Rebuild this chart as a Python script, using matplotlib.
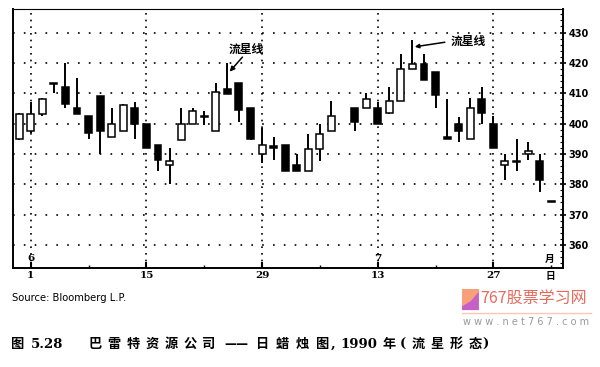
import numpy as np
import matplotlib
matplotlib.use("Agg")
from matplotlib import pyplot as plt
from matplotlib.patches import Rectangle, Polygon

plt.rcParams['font.family'] = ['Noto Sans CJK SC', 'DejaVu Sans']

# Handelstage (Position), Index 27 fehlt im Original
pos = list(range(-1, 27)) + list(range(28, 46))
opens = [395, 397.5, 403, 413, 412, 405, 402.5, 409, 395.5, 397.5, 405, 400, 393, 386.5,
         394.5, 400, 402.5, 397.5, 411.3, 413.5, 405, 390, 392.5, 393, 386.5, 384.5, 391.5, 397.5,
         405, 405, 405, 403.5, 407.5, 418, 419.5, 417, 395.5, 400, 395, 408, 400, 386.5,
         387.7, 390, 387.5, 374]
highs = [403.5, 407, 408.5, 413, 420, 415, 402.5, 409, 405, 406.5, 407, 400, 393, 392,
         405, 405, 404, 413.5, 420, 413.5, 405, 398.5, 395.7, 393, 390, 396.5, 400, 407.5,
         405, 410, 407, 412, 423, 427.5, 423, 417, 408, 402, 408.5, 412, 402.5, 390,
         395, 394, 390, 374]
lows = [394.5, 397, 402.5, 410, 405, 403, 395, 390, 395.5, 397.5, 395, 392, 384.5, 380,
        394.5, 400, 399.5, 397.5, 409.7, 400.5, 394.5, 387, 388, 384.5, 384.5, 384.5, 387.5, 397.5,
        397.5, 405, 400, 403, 407.5, 418, 414.5, 405, 395, 394, 395, 400, 392, 381.5,
        384.5, 388, 377.5, 374]
closes = [403, 403, 408, 413, 406.5, 403, 397, 397.5, 400, 406, 400, 392, 388, 387.5,
          400, 404, 402, 410.5, 409.8, 404.5, 395, 393, 392, 384.5, 384.5, 391.5, 396.5, 402.5,
          400.5, 408, 400, 407.5, 418, 419.7, 414.5, 409.5, 395, 397.5, 405, 403.5, 392, 387.7,
          387.3, 390.8, 381.5, 374]

tick_pos = [0, 10, 20, 30, 40]
tick_labels = ['1', '15', '29', '13', '27']
month_marks = [(0, '6'), (30, '7')]
y_ticks = [360, 370, 380, 390, 400, 410, 420, 430]

fig = plt.figure(figsize=(6, 3.67), dpi=100)
ax = fig.add_axes([0.021, 0.269, 0.917, 0.706])

ax.set_xlim(-1.57, 46.0)
ax.set_ylim(352.3, 437.7)

# Gitter punktiert
for y in y_ticks:
    ax.axhline(y, color='black', lw=1.2, ls=(0, (1, 5.5)), zorder=1)
for x in tick_pos:
    ax.axvline(x, color='black', lw=1.2, ls=(0, (1, 3)), zorder=1)

# Kerzen
w = 0.6
for x, o, h, l, c in zip(pos, opens, highs, lows, closes):
    ax.vlines(x, l, h, color='black', lw=1.4, zorder=2)
    up = c > o
    bot = min(o, c)
    hgt = max(abs(c - o), 0.35)
    ax.add_patch(Rectangle((x - w / 2, bot), w, hgt,
                           facecolor='white' if up else 'black',
                           edgecolor='black', lw=1.1, zorder=3))

# Achsen
for s in ax.spines.values():
    s.set_linewidth(1.4)
ax.spines['top'].set_linewidth(0.8)
ax.yaxis.tick_right()
ax.set_yticks(y_ticks)
ax.set_yticklabels([str(v) for v in y_ticks], fontsize=7, fontweight='bold',
                   family='DejaVu Sans')
ax.set_yticks(np.arange(354, 438, 2), minor=True)
ax.tick_params(axis='y', which='major', direction='inout', length=4, width=1.2, pad=2)
ax.tick_params(axis='y', which='minor', direction='in', length=2, width=0.8)
ax.set_xticks(tick_pos)
ax.set_xticklabels(tick_labels, fontsize=7.5, fontweight='bold', family='DejaVu Serif')
ax.set_xticks(np.arange(5, 46, 10), minor=True)
ax.tick_params(axis='x', which='major', direction='in', length=4, width=1.5, pad=2)
ax.tick_params(axis='x', which='minor', direction='in', length=2, width=1.0)

for x, t in month_marks:
    ax.text(x, 354.2, t, fontsize=7.5, fontweight='bold', ha='center', va='bottom',
            family='DejaVu Serif')
ax.text(44.9, 353.6, '月', fontsize=7, fontweight='bold', ha='center', va='bottom')
ax.text(44.9, 351.5, '日', fontsize=7, fontweight='bold', ha='center', va='top')

# Beschriftung Sternschnuppe
ax.text(18.6, 424.4, '流星线', fontsize=8.5, fontweight='bold', ha='center', va='center')
ax.annotate('', xy=(17.2, 417.1), xytext=(18.3, 421.9),
            arrowprops=dict(arrowstyle='-|>', color='black', lw=1.1,
                            mutation_scale=7, shrinkA=0, shrinkB=0))
ax.text(37.8, 427.0, '流星线', fontsize=8.5, fontweight='bold', ha='center', va='center')
ax.annotate('', xy=(33.2, 425.3), xytext=(35.8, 426.8),
            arrowprops=dict(arrowstyle='-|>', color='black', lw=1.1,
                            mutation_scale=6, shrinkA=0, shrinkB=0))

fig.text(0.02, 0.188, 'Source: Bloomberg L.P.', fontsize=7.2, family='DejaVu Sans',
         va='center')

# Bildunterschrift, Zeichen einzeln gesetzt (breite Laufweite wie im Original)
cap_y = 1 - 344 / 367
cap_kw = dict(fontsize=9.5, fontweight='bold', va='center', ha='center')
fig.text(17 / 600, cap_y, '图', **cap_kw)
fig.text(47 / 600, cap_y, '5.28', family='DejaVu Serif', **cap_kw)
for i, ch in enumerate('巴雷特资源公司'):
    fig.text((95 + 19 * i) / 600, cap_y, ch, **cap_kw)
fig.text(236 / 600, cap_y, '——', **cap_kw)
for i, ch in enumerate('日蜡烛图'):
    fig.text((263 + 19.5 * i) / 600, cap_y, ch, **cap_kw)
fig.text(333 / 600, cap_y, ',', family='DejaVu Serif', **cap_kw)
fig.text(359 / 600, cap_y, '1990', family='DejaVu Serif', **cap_kw)
fig.text(389 / 600, cap_y, '年', **cap_kw)
fig.text(403 / 600, cap_y, '(', family='DejaVu Serif', **cap_kw)
for i, ch in enumerate('流星形态'):
    fig.text((418 + 19 * i) / 600, cap_y, ch, **cap_kw)
fig.text(485 / 600, cap_y, ')', family='DejaVu Serif', **cap_kw)

# Wasserzeichen
fig.patches.append(Rectangle((0.77, 0.155), 0.028, 0.058, transform=fig.transFigure,
                             facecolor='#f7a07a', edgecolor='none'))
fig.patches.append(Polygon([(0.77, 0.155), (0.798, 0.155), (0.798, 0.205), (0.785, 0.18),
                            (0.77, 0.165)], closed=True, transform=fig.transFigure,
                           facecolor='#c560c8', edgecolor='none'))
fig.text(0.80, 0.188, '767股票学习网', fontsize=11.5, color='#e46a5c', va='center')
fig.lines.append(plt.Line2D([0.77, 0.985], [0.147, 0.147], transform=fig.transFigure,
                            color='#f5c8b8', lw=1.0))
fig.text(0.772, 0.122, 'w w w . n e t 7 6 7 . c o m', fontsize=7, color='#999999',
         va='center', family='DejaVu Sans')

fig.savefig('out.png', dpi=100)
